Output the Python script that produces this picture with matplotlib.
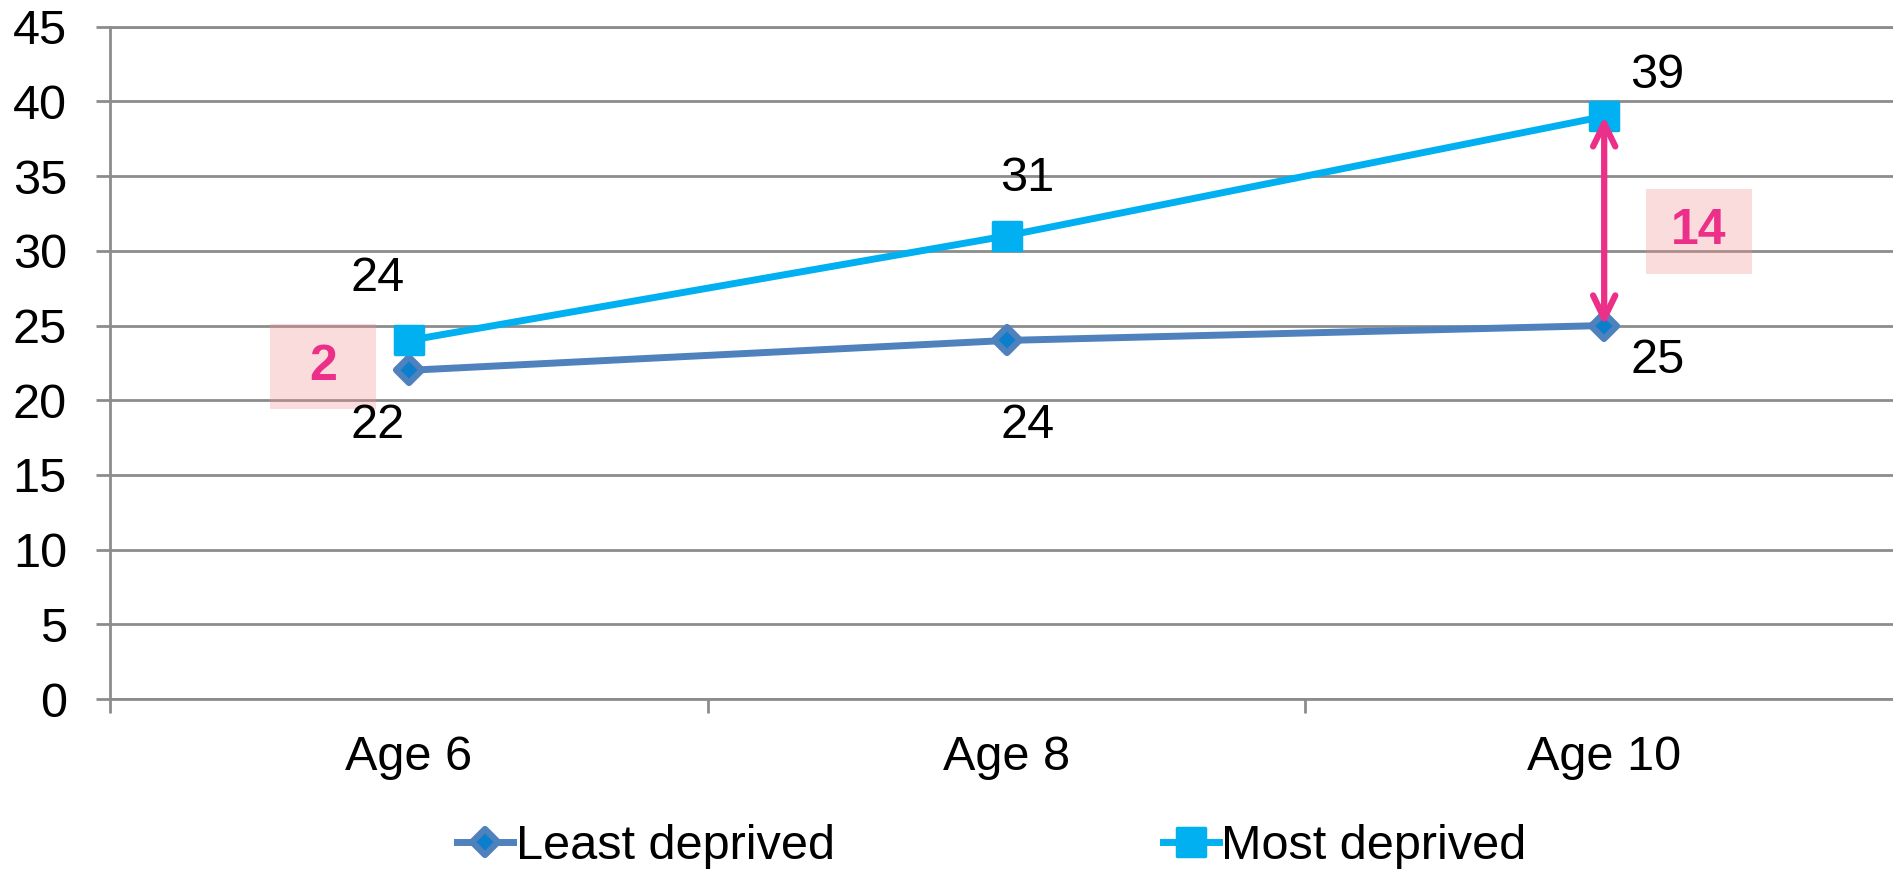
import matplotlib.pyplot as plt
from matplotlib.markers import MarkerStyle
from matplotlib.patches import Rectangle

plt.rcParams['font.family'] = ['Liberation Sans', 'DejaVu Sans']

ages = ["Age 6", "Age 8", "Age 10"]
least = [22, 24, 25]
most = [24, 31, 39]
# label offsets in pixels (dx, dy) for each point
least_off = [(-31, -55), (21, -85), (53, -35)]
most_off = [(-31, 62), (21, 57), (53, 41)]

GRID = "#8C8C8C"
LEAST_C = "#4F81BD"
MOST_C = "#00B0F0"
PINK = "#EC2F88"
FS = 35

fig = plt.figure(figsize=(18.93, 8.73), dpi=100)
ax = fig.add_axes([0.0581, 0.1993, 0.9472, 0.7701])

x = list(range(len(ages)))
diamond = MarkerStyle("D", joinstyle="round")
square = MarkerStyle("s", joinstyle="round")

ax.plot(x, least, color=LEAST_C, lw=5, marker=diamond, ms=13,
        mfc="#0B7FCB", mec=LEAST_C, mew=4.5, label="Least deprived", zorder=3)
ax.plot(x, most, color=MOST_C, lw=5, marker=square, ms=19.5,
        mfc=MOST_C, mec=MOST_C, mew=2.5, label="Most deprived", zorder=4)

for xi, v, (dx, dy) in zip(x, least, least_off):
    ax.annotate(str(v), (xi, v), xytext=(dx, dy), textcoords="offset pixels",
                ha="center", va="center", fontsize=FS)
for xi, v, (dx, dy) in zip(x, most, most_off):
    ax.annotate(str(v), (xi, v), xytext=(dx, dy), textcoords="offset pixels",
                ha="center", va="center", fontsize=FS)

# gap arrow at age 10
ax.annotate("", xy=(2, most[2]), xytext=(2, least[2]),
            arrowprops=dict(arrowstyle="<->,head_length=1.65,head_width=0.8",
                            color=PINK, lw=4.5, shrinkA=0, shrinkB=0,
                            capstyle="round", joinstyle="round"), zorder=6)

# gap labels on pale boxes
gap0 = most[0] - least[0]
gap2 = most[2] - least[2]
for (x0, y0, w, h), gap in [((-0.232, 19.4, 0.177, 5.7), gap0),
                            ((2.070, 28.45, 0.177, 5.7), gap2)]:
    ax.add_patch(Rectangle((x0, y0), w, h, fc=(0.96, 0.55, 0.55), ec="none",
                           alpha=0.3, zorder=1))
    ax.text(x0 + w / 2, y0 + h / 2, str(gap), ha="center", va="center",
            fontsize=36, fontweight="bold", color=PINK, zorder=5)

ax.set_xlim(-0.5, 2.5)
ax.set_ylim(0, 45)
ax.set_yticks(range(0, 46, 5))
ax.set_xticks(x)
ax.set_xticklabels(ages)
ax.set_xticks([-0.5, 0.5, 1.5, 2.5], minor=True)

ax.grid(axis="y", color=GRID, lw=2)
ax.set_axisbelow(True)
ax.spines["right"].set_visible(False)
for side in ["left", "bottom", "top"]:
    ax.spines[side].set_color(GRID)
    ax.spines[side].set_linewidth(2)

ax.tick_params(axis="y", direction="out", length=10, width=2, color=GRID,
               labelsize=FS, pad=21)
ax.tick_params(axis="x", which="major", length=0, labelsize=FS, pad=26)
ax.tick_params(axis="x", which="minor", direction="out", length=10, width=2,
               color=GRID)

fig.legend(loc="center", bbox_to_anchor=(0.524, 0.03), ncol=2, frameon=False,
           fontsize=FS, handlelength=1.15, handletextpad=0.05,
           columnspacing=6.75, numpoints=1)

fig.savefig("out.png", dpi=100)
